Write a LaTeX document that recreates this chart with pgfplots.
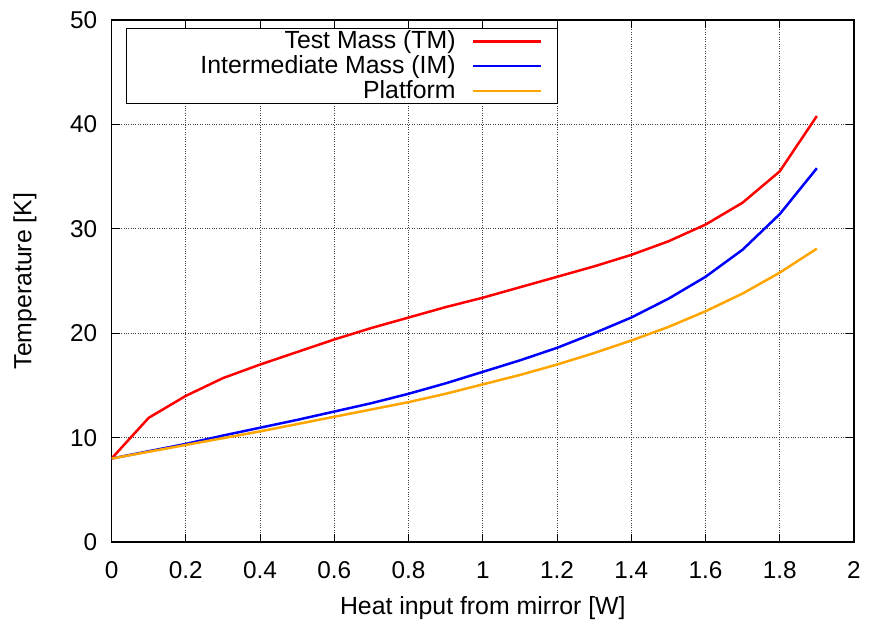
\documentclass[border=0pt]{standalone}
\usepackage{fontspec}
\setmainfont{Liberation Sans}
\usepackage{pgfplots}
\pgfplotsset{compat=1.18}
\definecolor{gpred}{RGB}{255,0,0}
\definecolor{gpblue}{RGB}{0,0,255}
\definecolor{gporange}{RGB}{255,165,0}
\begin{document}
\fontsize{25}{29}\selectfont
\begin{tikzpicture}
\begin{axis}[
  scale only axis,
  width=745bp, height=524bp,
  at={(0,0)}, anchor=south west,
  xmin=0, xmax=2, ymin=0, ymax=50,
  xtick={0,0.2,...,2.01},
  ytick={0,10,20,30,40,50},
  xticklabels={0,0.2,0.4,0.6,0.8,1,1.2,1.4,1.6,1.8,2},
  /pgf/number format/assume math mode=true,
  tick label style={font=\fontsize{24.5}{29}\selectfont},
  xticklabel style={yshift=-11bp},
  yticklabel style={xshift=-6bp},
  label style={font=\fontsize{25}{29}\selectfont},
  xlabel={Heat input from mirror [W]},
  ylabel={Temperature [K]},
  every axis x label/.style={at={(axis description cs:0.5,-0.1255)}, anchor=center},
  every axis y label/.style={at={(axis description cs:-0.1168,0.5)}, anchor=center, rotate=90},
  grid=major,
  grid style={dotted, black!75, line width=0.9bp},
  axis line style={line width=1.4bp, black},
  tick style={line width=1.0bp, black},
  major tick length=8bp,
  tick align=inside,
  legend plot pos=right,
  legend cell align=right,
  legend style={at={(axis description cs:0.0197,0.9842)}, anchor=north west,
    draw=black, line width=1.0bp, fill=white, inner xsep=0bp, inner ysep=0bp,
    column sep=15bp, row sep=0bp,
    nodes={inner sep=1bp, text height=19bp, text depth=4bp, font=\fontsize{25}{29}\selectfont}},
  legend image code/.code={\draw[#1, line width=2.8bp] (0bp,0bp) -- (68bp,0bp); \path (84bp,0bp);},
]
\addplot[gpred, line width=2.5bp] coordinates {
(0,8) (0.1,11.9) (0.2,14.0) (0.3,15.7) (0.4,17.0) (0.5,18.2) (0.6,19.4) (0.7,20.5)
(0.8,21.5) (0.9,22.5) (1.0,23.4) (1.1,24.4) (1.2,25.4) (1.3,26.4) (1.4,27.5)
(1.5,28.8) (1.6,30.4) (1.7,32.5) (1.8,35.5) (1.9,40.8)};
\addlegendentry{\makebox[329bp][r]{Test Mass (TM)}}
\addplot[gpblue, line width=2.5bp] coordinates {
(0,8) (0.1,8.7) (0.2,9.4) (0.3,10.2) (0.4,10.95) (0.5,11.7) (0.6,12.5) (0.7,13.3)
(0.8,14.2) (0.9,15.2) (1.0,16.3) (1.1,17.4) (1.2,18.6) (1.3,20.0) (1.4,21.5)
(1.5,23.3) (1.6,25.4) (1.7,28.0) (1.8,31.4) (1.9,35.8)};
\addlegendentry{Intermediate Mass (IM)}
\addplot[gporange, line width=2.5bp] coordinates {
(0,8) (0.1,8.65) (0.2,9.3) (0.3,9.95) (0.4,10.6) (0.5,11.3) (0.6,12.0) (0.7,12.7)
(0.8,13.4) (0.9,14.2) (1.0,15.1) (1.1,16.0) (1.2,17.0) (1.3,18.1) (1.4,19.3)
(1.5,20.6) (1.6,22.1) (1.7,23.8) (1.8,25.8) (1.9,28.1)};
\addlegendentry{Platform}
\end{axis}
\path[use as bounding box] (-112bp,-81bp) rectangle (757bp,544bp);
\end{tikzpicture}
\end{document}
